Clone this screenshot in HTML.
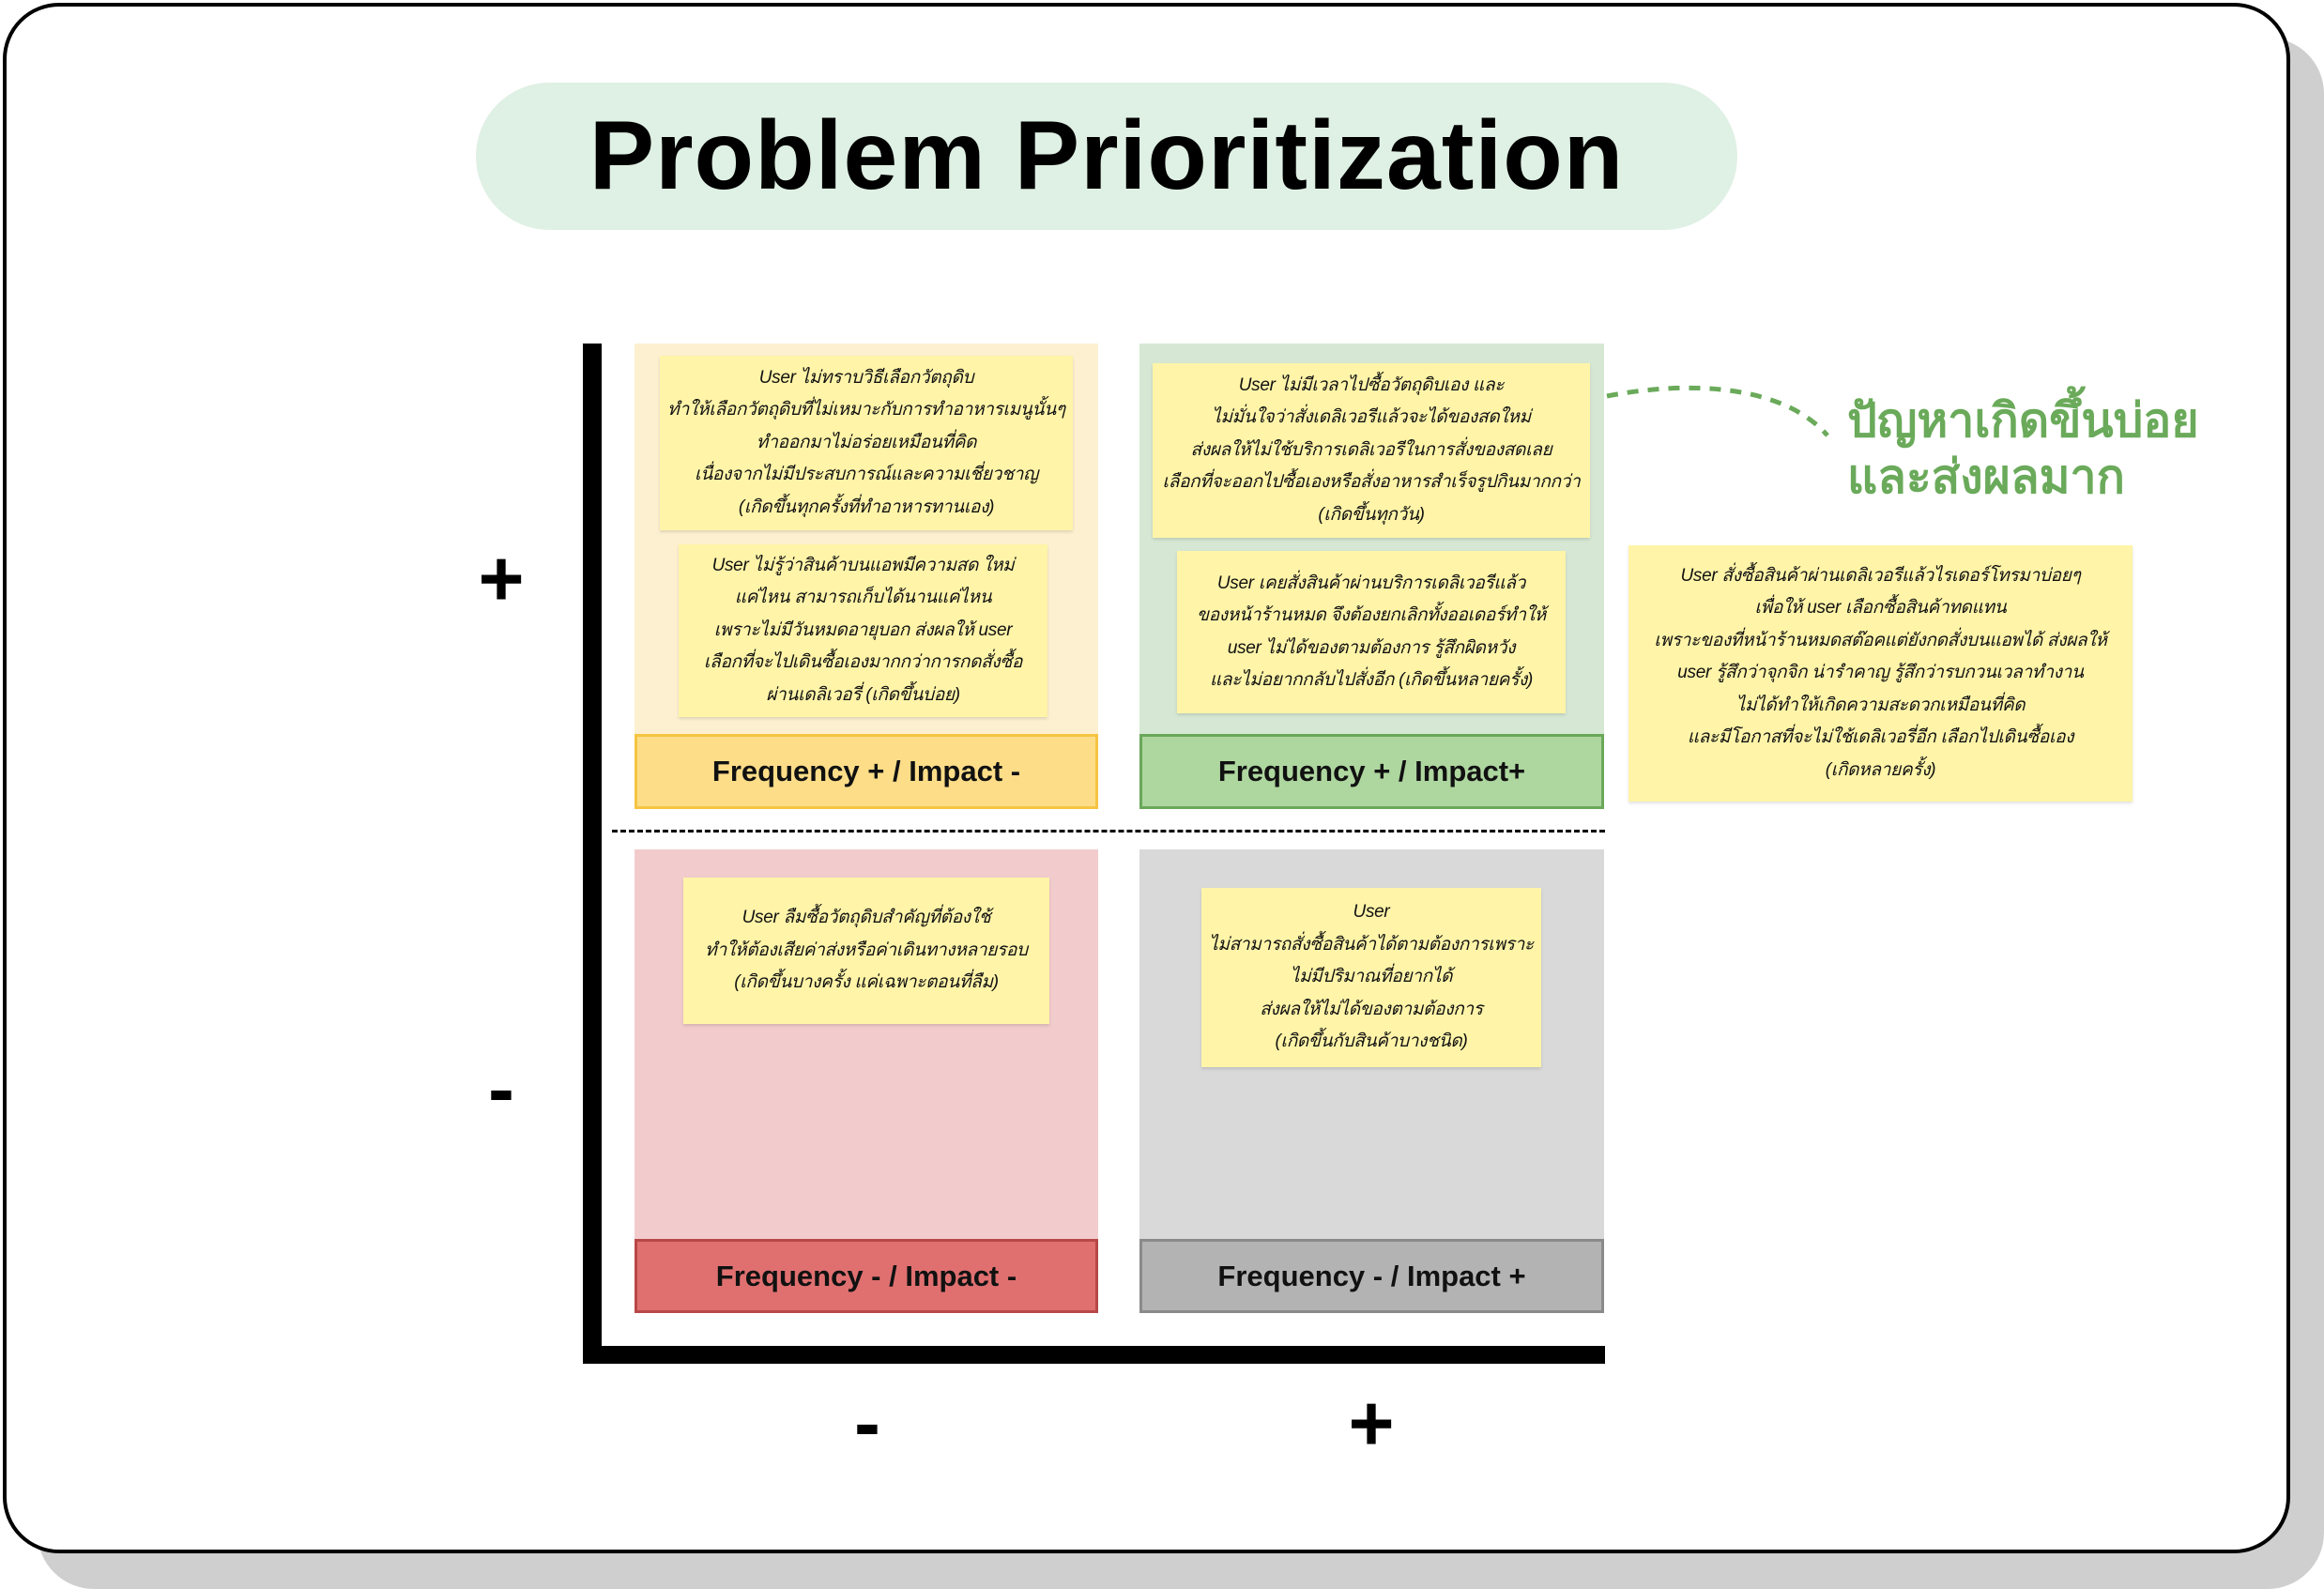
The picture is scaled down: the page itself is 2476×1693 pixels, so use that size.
<!DOCTYPE html>
<html><head><meta charset="utf-8">
<style>
*{margin:0;padding:0;box-sizing:border-box}
body{width:2476px;height:1693px;background:#fff;position:relative;overflow:hidden;font-family:"Liberation Sans",sans-serif}
.a{position:absolute}
.shadow{left:40px;top:40px;width:2436px;height:1653px;background:#cfcfcf;border-radius:60px}
.card{left:3px;top:3px;width:2437px;height:1652px;background:#fff;border:4px solid #000;border-radius:60px}
.pill{left:507px;top:88px;width:1344px;height:157px;background:#dff0e4;border-radius:80px;display:flex;align-items:center;justify-content:center;font-weight:bold;font-size:104px;color:#000;letter-spacing:1px}
.q{position:absolute}
.lab{position:absolute;display:flex;align-items:center;justify-content:center;font-weight:bold;font-size:31px;color:#111;border:3px solid}
.st{position:absolute;background:#fff4a8;box-shadow:0 2px 3px rgba(0,0,0,.12);display:flex;align-items:center;justify-content:center;text-align:center;font-style:italic;font-size:19px;line-height:34.5px;color:#111;white-space:nowrap;letter-spacing:-0.3px;font-family:"Liberation Sans","DejaVu Sans",sans-serif}
.sym{position:absolute;font-weight:bold;font-size:84px;line-height:1;transform:translate(-50%,-50%)}
</style></head><body>
<div class="a shadow"></div>
<div class="a card"></div>
<div class="a pill">Problem Prioritization</div>

<div class="q" style="left:676px;top:366px;width:494px;height:496px;background:#fdf0d0"></div>
<div class="lab" style="left:676px;top:782px;width:494px;height:80px;background:#fddd88;border-color:#f5c542">Frequency + / Impact -</div>
<div class="q" style="left:1214px;top:366px;width:495px;height:496px;background:#d6e8d4"></div>
<div class="lab" style="left:1214px;top:782px;width:495px;height:80px;background:#aed69f;border-color:#6aa85a">Frequency + / Impact+</div>
<div class="q" style="left:676px;top:905px;width:494px;height:494px;background:#f2cccc"></div>
<div class="lab" style="left:676px;top:1320px;width:494px;height:79px;background:#e07070;border-color:#b84848">Frequency - / Impact -</div>
<div class="q" style="left:1214px;top:905px;width:495px;height:494px;background:#d9d9d9"></div>
<div class="lab" style="left:1214px;top:1320px;width:495px;height:79px;background:#b3b3b3;border-color:#8a8a8a">Frequency - / Impact +</div>

<div class="a" style="left:621px;top:366px;width:20px;height:1087px;background:#000"></div>
<div class="a" style="left:621px;top:1434px;width:1089px;height:19px;background:#000"></div>
<div class="a" style="left:652px;top:884px;width:1058px;border-top:3px dashed #000"></div>

<div class="st" style="left:703px;top:379px;width:440px;height:186px">User ไม่ทราบวิธีเลือกวัตถุดิบ<br>ทำให้เลือกวัตถุดิบที่ไม่เหมาะกับการทำอาหารเมนูนั้นๆ<br>ทำออกมาไม่อร่อยเหมือนที่คิด<br>เนื่องจากไม่มีประสบการณ์และความเชี่ยวชาญ<br>(เกิดขึ้นทุกครั้งที่ทำอาหารทานเอง)</div>
<div class="st" style="left:723px;top:580px;width:393px;height:184px">User ไม่รู้ว่าสินค้าบนแอพมีความสด ใหม่<br>แค่ไหน สามารถเก็บได้นานแค่ไหน<br>เพราะไม่มีวันหมดอายุบอก ส่งผลให้ user<br>เลือกที่จะไปเดินซื้อเองมากกว่าการกดสั่งซื้อ<br>ผ่านเดลิเวอรี่ (เกิดขึ้นบ่อย)</div>
<div class="st" style="left:1228px;top:387px;width:466px;height:186px">User ไม่มีเวลาไปซื้อวัตถุดิบเอง และ<br>ไม่มั่นใจว่าสั่งเดลิเวอรีแล้วจะได้ของสดใหม่<br>ส่งผลให้ไม่ใช้บริการเดลิเวอรีในการสั่งของสดเลย<br>เลือกที่จะออกไปซื้อเองหรือสั่งอาหารสำเร็จรูปกินมากกว่า<br>(เกิดขึ้นทุกวัน)</div>
<div class="st" style="left:1254px;top:587px;width:414px;height:173px">User เคยสั่งสินค้าผ่านบริการเดลิเวอรีแล้ว<br>ของหน้าร้านหมด จึงต้องยกเลิกทั้งออเดอร์ทำให้<br>user ไม่ได้ของตามต้องการ รู้สึกผิดหวัง<br>และไม่อยากกลับไปสั่งอีก (เกิดขึ้นหลายครั้ง)</div>
<div class="st" style="left:1735px;top:581px;width:537px;height:273px">User สั่งซื้อสินค้าผ่านเดลิเวอรีแล้วไรเดอร์โทรมาบ่อยๆ<br>เพื่อให้ user เลือกซื้อสินค้าทดแทน<br>เพราะของที่หน้าร้านหมดสต๊อคแต่ยังกดสั่งบนแอพได้ ส่งผลให้<br>user รู้สึกว่าจุกจิก น่ารำคาญ รู้สึกว่ารบกวนเวลาทำงาน<br>ไม่ได้ทำให้เกิดความสะดวกเหมือนที่คิด<br>และมีโอกาสที่จะไม่ใช้เดลิเวอรี่อีก เลือกไปเดินซื้อเอง<br>(เกิดหลายครั้ง)</div>
<div class="st" style="left:728px;top:935px;width:390px;height:156px">User ลืมซื้อวัตถุดิบสำคัญที่ต้องใช้<br>ทำให้ต้องเสียค่าส่งหรือค่าเดินทางหลายรอบ<br>(เกิดขึ้นบางครั้ง แค่เฉพาะตอนที่ลืม)</div>
<div class="st" style="left:1280px;top:946px;width:362px;height:191px">User<br>ไม่สามารถสั่งซื้อสินค้าได้ตามต้องการเพราะ<br>ไม่มีปริมาณที่อยากได้<br>ส่งผลให้ไม่ได้ของตามต้องการ<br>(เกิดขึ้นกับสินค้าบางชนิด)</div>

<div class="sym" style="left:534px;top:616px">+</div>
<div class="sym" style="left:534px;top:1160px">-</div>
<div class="sym" style="left:924px;top:1516px">-</div>
<div class="sym" style="left:1461px;top:1516px">+</div>

<svg class="a" style="left:0;top:0" width="2476" height="1693">
<path d="M1712 422 C1800 405 1900 410 1947 464" fill="none" stroke="#6aaa5a" stroke-width="5" stroke-dasharray="12 10"/>
</svg>
<div class="a" style="left:1968px;top:418px;font-size:50px;font-weight:bold;color:#6aaa5a;line-height:60px">ปัญหาเกิดขึ้นบ่อย<br>และส่งผลมาก</div>
</body></html>
